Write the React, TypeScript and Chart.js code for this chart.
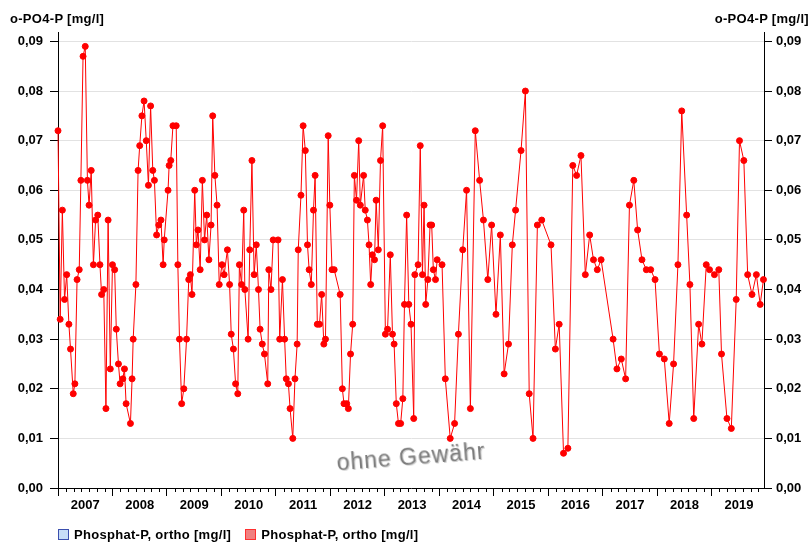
import React, { useEffect, useRef } from 'react';
import { Chart, registerables } from 'chart.js';

Chart.register(...registerables);

// Sampling dates (decimal years) and o-PO4-P values [mg/l]
const DATES: number[] = [
  2007.00, 2007.04, 2007.08, 2007.12, 2007.16, 2007.20, 2007.23, 2007.28, 2007.31, 2007.35,
  2007.39, 2007.42, 2007.46, 2007.50, 2007.54, 2007.57, 2007.61, 2007.65, 2007.69, 2007.73,
  2007.77, 2007.80, 2007.84, 2007.88, 2007.92, 2007.96, 2008.00, 2008.04, 2008.07, 2008.11,
  2008.14, 2008.19, 2008.22, 2008.25, 2008.33, 2008.36, 2008.38, 2008.43, 2008.47, 2008.50,
  2008.54, 2008.58, 2008.62, 2008.66, 2008.70, 2008.74, 2008.77, 2008.81, 2008.85, 2008.89,
  2008.93, 2008.95, 2009.02, 2009.04, 2009.07, 2009.11, 2009.17, 2009.20, 2009.23, 2009.27,
  2009.31, 2009.36, 2009.40, 2009.43, 2009.46, 2009.51, 2009.54, 2009.57,
  2009.61, 2009.65, 2009.69, 2009.73, 2009.77, 2009.81, 2009.84, 2009.88, 2009.92, 2009.96,
  2010.01, 2010.05, 2010.11, 2010.15, 2010.18, 2010.22, 2010.26, 2010.30, 2010.33, 2010.37,
  2010.41, 2010.43, 2010.49, 2010.52, 2010.56, 2010.60, 2010.64, 2010.68, 2010.71, 2010.75,
  2010.79, 2010.85, 2010.87, 2010.91, 2010.95, 2011.04, 2011.07, 2011.12, 2011.16, 2011.19,
  2011.23, 2011.26, 2011.31, 2011.35, 2011.39, 2011.41, 2011.46, 2011.50, 2011.54, 2011.58,
  2011.61, 2011.65, 2011.69, 2011.72, 2011.76, 2011.80, 2011.84, 2011.88, 2011.91, 2011.96,
  2011.99, 2012.03,
  2012.07, 2012.18, 2012.22, 2012.25, 2012.30, 2012.33, 2012.37, 2012.41, 2012.44, 2012.48,
  2012.52, 2012.55, 2012.61, 2012.64, 2012.68, 2012.71, 2012.74, 2012.77, 2012.81, 2012.84,
  2012.88, 2012.92, 2012.96, 2013.01, 2013.05, 2013.10, 2013.14, 2013.17, 2013.21, 2013.25,
  2013.29, 2013.33, 2013.36, 2013.40, 2013.44, 2013.48, 2013.53, 2013.55, 2013.61, 2013.65,
  2013.69, 2013.72, 2013.75, 2013.79, 2013.83, 2013.86, 2013.89, 2013.93, 2013.96, 2014.05,
  2014.11, 2014.20, 2014.28, 2014.35, 2014.43, 2014.50, 2014.57,
  2014.66, 2014.74, 2014.81, 2014.89, 2014.96, 2015.04, 2015.12, 2015.19, 2015.27, 2015.34,
  2015.40, 2015.50, 2015.58, 2015.65, 2015.72, 2015.80, 2015.88, 2016.05, 2016.13, 2016.20,
  2016.28, 2016.36, 2016.45, 2016.52, 2016.60, 2016.68, 2016.76, 2016.83, 2016.90, 2016.97,
  2017.19, 2017.26, 2017.34, 2017.42, 2017.49, 2017.57, 2017.64, 2017.72, 2017.80, 2017.88,
  2017.96, 2018.04, 2018.13, 2018.22, 2018.30, 2018.38, 2018.45, 2018.54, 2018.60, 2018.67,
  2018.76, 2018.82, 2018.90, 2018.96, 2019.05, 2019.13, 2019.18, 2019.28, 2019.36, 2019.45,
  2019.51, 2019.59, 2019.66, 2019.74, 2019.82, 2019.89, 2019.95,
];

const VALUES: number[] = [
  0.072, 0.034, 0.056, 0.038, 0.043, 0.033, 0.028, 0.019, 0.021, 0.042,
  0.044, 0.062, 0.087, 0.089, 0.062, 0.057, 0.064, 0.045, 0.054, 0.055,
  0.045, 0.039, 0.040, 0.016, 0.054, 0.024, 0.045, 0.044, 0.032, 0.025,
  0.021, 0.022, 0.024, 0.017, 0.013, 0.022, 0.030, 0.041, 0.064, 0.069,
  0.075, 0.078, 0.070, 0.061, 0.077, 0.064, 0.062, 0.051, 0.053, 0.054,
  0.045, 0.050, 0.060, 0.065, 0.066, 0.073, 0.073, 0.045, 0.030, 0.017,
  0.020, 0.030, 0.042, 0.043, 0.039, 0.060, 0.049, 0.052,
  0.044, 0.062, 0.050, 0.055, 0.046, 0.053, 0.075, 0.063, 0.057, 0.041,
  0.045, 0.043, 0.048, 0.041, 0.031, 0.028, 0.021, 0.019, 0.045, 0.041,
  0.056, 0.040, 0.030, 0.048, 0.066, 0.043, 0.049, 0.040, 0.032, 0.029,
  0.027, 0.021, 0.044, 0.040, 0.050, 0.050, 0.030, 0.042, 0.030, 0.022,
  0.021, 0.016, 0.010, 0.022, 0.029, 0.048, 0.059, 0.073, 0.068, 0.049,
  0.044, 0.041, 0.056, 0.063, 0.033, 0.033, 0.039, 0.029, 0.030, 0.071,
  0.057, 0.044,
  0.044, 0.039, 0.020, 0.017, 0.017, 0.016, 0.027, 0.033, 0.063, 0.058,
  0.070, 0.057, 0.063, 0.056, 0.054, 0.049, 0.041, 0.047, 0.046, 0.058,
  0.048, 0.066, 0.073, 0.031, 0.032, 0.047, 0.031, 0.029, 0.017, 0.013,
  0.013, 0.018, 0.037, 0.055, 0.037, 0.033, 0.014, 0.043, 0.045, 0.069,
  0.043, 0.057, 0.037, 0.042, 0.053, 0.053, 0.044, 0.042, 0.046, 0.045,
  0.022, 0.010, 0.013, 0.031, 0.048, 0.060, 0.016,
  0.072, 0.062, 0.054, 0.042, 0.053, 0.035, 0.051, 0.023, 0.029, 0.049,
  0.056, 0.068, 0.080, 0.019, 0.010, 0.053, 0.054, 0.049, 0.028, 0.033,
  0.007, 0.008, 0.065, 0.063, 0.067, 0.043, 0.051, 0.046, 0.044, 0.046,
  0.030, 0.024, 0.026, 0.022, 0.057, 0.062, 0.052, 0.046, 0.044, 0.044,
  0.042, 0.027, 0.026, 0.013, 0.025, 0.045, 0.076, 0.055, 0.041, 0.014,
  0.033, 0.029, 0.045, 0.044, 0.043, 0.044, 0.027, 0.014, 0.012, 0.038,
  0.070, 0.066, 0.043, 0.039, 0.043, 0.037, 0.042,
];

const YEARS: number[] = [2007, 2008, 2009, 2010, 2011, 2012, 2013, 2014, 2015, 2016, 2017, 2018, 2019];
const Y_TICKS: number[] = [0, 0.01, 0.02, 0.03, 0.04, 0.05, 0.06, 0.07, 0.08, 0.09];
const SERIES_LABELS: string[] = ['Phosphat-P, ortho [mg/l]', 'Phosphat-P, ortho [mg/l]'];
const AXIS_TITLE = 'o-PO4-P [mg/l]';
const WATERMARK = 'ohne Gewähr';

const X_MIN = 2007.0;
const X_MAX = 2019.96;
const Y_MIN = 0;
const Y_MAX = 0.0919;
const MINOR_PER_YEAR = 7;

const FONT = "'Liberation Sans', Arial, Helvetica, sans-serif";

const fmt = (v: number) => v.toFixed(2).replace('.', ',');

const minorTicksPlugin = {
  id: 'minorTicks',
  afterDraw(chart: any) {
    const xs = chart.scales.x;
    const ctx = chart.ctx;
    const bottom = chart.chartArea.bottom;
    ctx.save();
    ctx.strokeStyle = '#000';
    ctx.lineWidth = 1;
    ctx.beginPath();
    for (const y of YEARS) {
      for (let k = 1; k < MINOR_PER_YEAR; k++) {
        const v = y + k / MINOR_PER_YEAR;
        if (v > X_MAX) continue;
        const px = Math.round(xs.getPixelForValue(v)) + 0.5;
        ctx.moveTo(px, bottom);
        ctx.lineTo(px, bottom + 4);
      }
    }
    ctx.stroke();
    ctx.restore();
  },
};

const tickFont = { family: FONT, size: 13, weight: 'bold' as const };

export default function App() {
  const canvasRef = useRef<HTMLCanvasElement | null>(null);

  useEffect(() => {
    document.body.style.margin = '0';
    const canvas = canvasRef.current;
    if (!canvas) return;
    const points = DATES.map((d, i) => ({ x: d, y: VALUES[i] }));
    const chart = new Chart(canvas, {
      type: 'line',
      data: {
        datasets: [
          {
            label: SERIES_LABELS[0],
            data: [],
            borderColor: '#3b4fae',
            backgroundColor: '#c6ddf7',
          },
          {
            label: SERIES_LABELS[1],
            data: points,
            borderColor: '#ff0000',
            borderWidth: 1,
            backgroundColor: '#ff0000',
            pointRadius: 3,
            pointBorderWidth: 1,
            pointBorderColor: '#ff0000',
            pointBackgroundColor: '#ff0000',
            tension: 0,
            fill: false,
            clip: false as any,
          },
        ],
      },
      options: {
        responsive: false,
        animation: false,
        events: [],
        layout: { padding: { top: 32, left: 0, right: 0, bottom: 0 } },
        plugins: {
          legend: { display: false },
          tooltip: { enabled: false },
          title: { display: false },
        },
        scales: {
          x: {
            type: 'linear',
            position: 'bottom',
            min: X_MIN,
            max: X_MAX,
            afterBuildTicks: (scale: any) => {
              scale.ticks = YEARS.map((y) => ({ value: y + 0.5 }));
            },
            afterFit: (scale: any) => {
              scale.height = 59;
            },
            ticks: {
              autoSkip: false,
              maxRotation: 0,
              padding: 2,
              color: '#000',
              font: tickFont,
              callback: (v: any) => String(Math.floor(Number(v))),
            },
            grid: {
              offset: true,
              drawOnChartArea: false,
              drawTicks: true,
              tickLength: 8,
              tickColor: '#000',
              tickWidth: 1,
            },
            border: { display: true, color: '#000', width: 1 },
          },
          y: {
            type: 'linear',
            position: 'left',
            min: Y_MIN,
            max: Y_MAX,
            afterBuildTicks: (scale: any) => {
              scale.ticks = Y_TICKS.map((v) => ({ value: v }));
            },
            afterFit: (scale: any) => {
              scale.width = 58;
            },
            ticks: {
              padding: 7,
              color: '#000',
              font: tickFont,
              callback: (v: any) => fmt(Number(v)),
            },
            grid: {
              color: '#e2e2e2',
              lineWidth: 1,
              drawTicks: true,
              tickLength: 8,
              tickColor: '#000',
            },
            border: { display: true, color: '#000', width: 1 },
          },
          y2: {
            type: 'linear',
            position: 'right',
            min: Y_MIN,
            max: Y_MAX,
            afterBuildTicks: (scale: any) => {
              scale.ticks = Y_TICKS.map((v) => ({ value: v }));
            },
            afterFit: (scale: any) => {
              scale.width = 47;
            },
            ticks: {
              padding: 4,
              color: '#000',
              font: tickFont,
              callback: (v: any) => fmt(Number(v)),
            },
            grid: {
              drawOnChartArea: false,
              drawTicks: true,
              tickLength: 8,
              tickColor: '#000',
            },
            border: { display: true, color: '#000', width: 1 },
          },
        },
      } as any,
      plugins: [minorTicksPlugin],
    });
    return () => {
      chart.destroy();
    };
  }, []);

  const textStyle: React.CSSProperties = {
    position: 'absolute',
    fontFamily: FONT,
    fontWeight: 'bold',
    fontSize: 13,
    lineHeight: '15px',
    color: '#000',
    letterSpacing: '0.3px',
    whiteSpace: 'nowrap',
  };

  return (
    <div style={{ position: 'relative', width: 811, height: 547, background: '#fff', overflow: 'hidden' }}>
      <canvas ref={canvasRef} width={811} height={547} style={{ display: 'block' }} />
      <div style={{ ...textStyle, left: 10, top: 11 }}>{AXIS_TITLE}</div>
      <div style={{ ...textStyle, right: 2, top: 11 }}>{AXIS_TITLE}</div>
      <div
        style={{
          position: 'absolute',
          left: 411,
          top: 457,
          transform: 'translate(-50%, -50%) rotate(-4.5deg)',
          fontFamily: FONT,
          fontSize: 23,
          letterSpacing: '1px',
          color: '#7c7c7c',
          textShadow: '1px 1px 0 #cfcfcf',
          whiteSpace: 'nowrap',
          pointerEvents: 'none',
        }}
      >
        {WATERMARK}
      </div>
      <div style={{ position: 'absolute', left: 58, top: 527, display: 'flex', alignItems: 'center' }}>
        <span
          style={{
            display: 'inline-block',
            width: 9,
            height: 9,
            background: '#c6ddf7',
            border: '1px solid #3b4fae',
            marginRight: 5,
          }}
        />
        <span style={{ ...textStyle, position: 'static' }}>{SERIES_LABELS[0]}</span>
        <span
          style={{
            display: 'inline-block',
            width: 9,
            height: 9,
            background: '#f08080',
            border: '1px solid #ff3030',
            marginLeft: 14,
            marginRight: 5,
          }}
        />
        <span style={{ ...textStyle, position: 'static' }}>{SERIES_LABELS[1]}</span>
      </div>
    </div>
  );
}
